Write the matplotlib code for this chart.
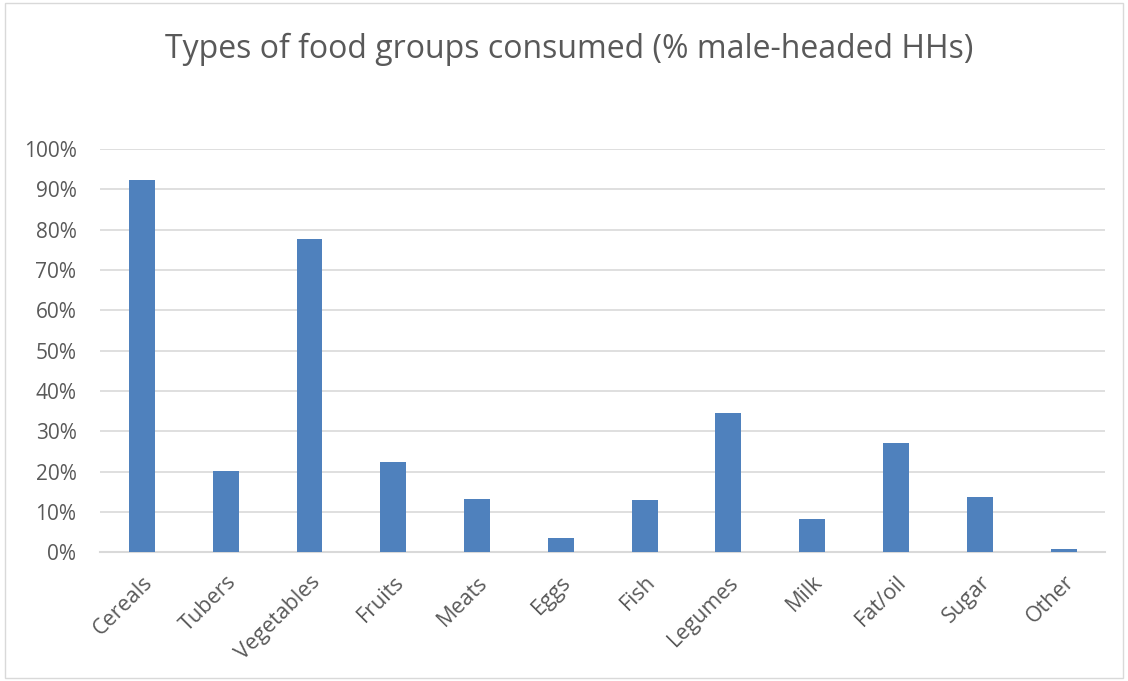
import numpy as np
import matplotlib
matplotlib.use('Agg')
import matplotlib.pyplot as plt
from matplotlib.ticker import PercentFormatter
from matplotlib.patches import Rectangle

categorias = ['Cereals', 'Tubers', 'Vegetables', 'Fruits', 'Meats', 'Eggs',
              'Fish', 'Legumes', 'Milk', 'Fat/oil', 'Sugar', 'Other']
valores = [92.3, 20.2, 77.8, 22.3, 13.3, 3.5, 13.0, 34.6, 8.3, 27.1, 13.7, 0.7]

gris = '#595959'
plt.rcParams['font.family'] = ['Open Sans', 'DejaVu Sans']

fig = plt.figure(figsize=(11.28, 6.81), dpi=100)
ax = fig.add_axes([0.0887, 0.189, 0.8913, 0.592])

x = np.arange(len(categorias))
ax.bar(x, [v / 100 for v in valores], width=0.31, color='#4f81bd', zorder=3)

ax.set_xlim(-0.5, len(categorias) - 0.5)
ax.set_ylim(0, 1.0)
ax.set_yticks(np.arange(0, 1.01, 0.1))
ax.yaxis.set_major_formatter(PercentFormatter(1.0, decimals=0))
ax.grid(axis='y', color='#d9d9d9', linewidth=1.2, zorder=0)

ax.set_xticks(x)
ax.set_xticklabels(categorias, rotation=45, ha='right', rotation_mode='anchor')
ax.tick_params(axis='both', length=0, colors=gris)
ax.tick_params(axis='y', pad=17, labelsize=15)
ax.tick_params(axis='x', pad=14, labelsize=15.5)

for lado in ['top', 'right', 'left']:
    ax.spines[lado].set_visible(False)
ax.spines['bottom'].set_color('#d9d9d9')
ax.spines['bottom'].set_linewidth(1.5)

fig.text(0.505, 0.927, 'Types of food groups consumed (% male-headed HHs)',
         ha='center', va='center', fontsize=23, color=gris)

fig.patches.append(Rectangle((0.004, 0.005), 0.992, 0.99, transform=fig.transFigure,
                             fill=False, edgecolor='#d9d9d9', linewidth=1))

fig.savefig('out.png', dpi=100)
